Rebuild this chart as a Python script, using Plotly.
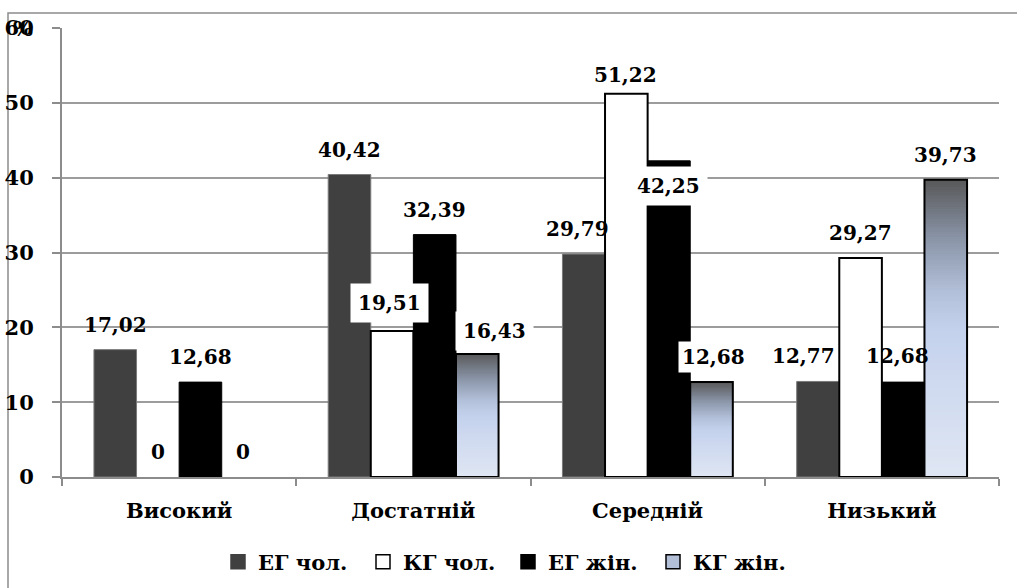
import numpy as np
import plotly.graph_objects as go

# Levels and group values (%)
categories = ["Високий", "Достатній", "Середній", "Низький"]
series_names = ["ЕГ чол.", "КГ чол.", "ЕГ жін.", "КГ жін."]
eg_men = [17.02, 40.42, 29.79, 12.77]
kg_men = [0, 19.51, 51.22, 29.27]
eg_women = [12.68, 32.39, 42.25, 12.68]
kg_women = [0, 16.43, 12.68, 39.73]
y_ticks = [0, 10, 20, 30, 40, 50, 60]

series_values = [eg_men, kg_men, eg_women, kg_women]

FONT = "DejaVu Serif"
GRID = "#9c9c9c"
AXIS = "#8c8c8c"
LABEL_SIZE = 20
AXIS_SIZE = 21

n_series = len(series_values)
bargap = 1.5 / 5.5
bar_w = (1 - bargap) / n_series
xc = np.arange(len(categories))

def bar_center(i, j):
    return xc[j] + (i - (n_series - 1) / 2) * bar_w

fig = go.Figure()

# Vertical gradient fill for the "КГ жін." bars (drawn beneath the outlined bars)
grad_scale = [
    [0.0, "#dfe6f3"],
    [0.35, "#cdd8ef"],
    [0.5, "#c3d1ec"],
    [0.62, "#b3c0d9"],
    [0.8, "#8a95a8"],
    [1.0, "#585858"],
]
n_steps = 120
for j, v in enumerate(kg_women):
    if v <= 0:
        continue
    c = bar_center(3, j)
    edges_y = np.linspace(0, v, n_steps + 1)
    frac = ((edges_y[:-1] + edges_y[1:]) / 2 / v).reshape(-1, 1)
    fig.add_trace(go.Heatmap(
        x=[c - bar_w / 2, c + bar_w / 2], y=edges_y, z=frac,
        colorscale=grad_scale, zmin=0, zmax=1, showscale=False,
        hoverinfo="skip", showlegend=False,
    ))

fills = ["#404040", "#ffffff", "#000000", "rgba(0,0,0,0)"]
edge_colors = ["#7a7a7a", "#000000", "#000000", "#000000"]
edge_widths = [1, 2, 1, 2]
legend_fills = ["#404040", "#ffffff", "#000000", "#b2bfd6"]

for i, (name, vals) in enumerate(zip(series_names, series_values)):
    fig.add_trace(go.Bar(
        x=xc, y=vals, name=name, legendgroup=name, showlegend=False,
        marker=dict(
            color=fills[i],
            # empty (zero-height) bars get no outline
            line=dict(color=edge_colors[i],
                      width=[0 if v == 0 else edge_widths[i] for v in vals]),
        ),
        hoverinfo="name+y",
    ))

# Legend keys
for i, name in enumerate(series_names):
    fig.add_trace(go.Scatter(
        x=[None], y=[None], mode="markers", name=name, legendgroup=name,
        marker=dict(symbol="square", size=14, color=legend_fills[i],
                    line=dict(color=edge_colors[i] if i != 0 else "#404040",
                              width=1.5)),
        hoverinfo="skip",
    ))

# Data labels: (dx, dy) pixel offsets from the top of each bar
label_offsets = {
    (1, 1): (-3, 28),
    (3, 1): (17, 23),
    (0, 2): (-6, 25),
    (1, 2): (-1, 19),
    (2, 2): (0, -25),
    (3, 2): (2, 25),
    (0, 3): (-14, 25),
    (2, 3): (-6, 26),
}
boxed = {(1, 1), (2, 2), (3, 1), (3, 2)}
annotations = []
for i, vals in enumerate(series_values):
    for j, v in enumerate(vals):
        dx, dy = label_offsets.get((i, j), (0, 25))
        txt = "0" if v == 0 else f"{v:.2f}".replace(".", ",")
        annotations.append(dict(
            x=bar_center(i, j), y=v, xref="x", yref="y",
            text=txt, showarrow=False, xshift=dx, yshift=dy,
            xanchor="center", yanchor="middle",
            font=dict(family=FONT, size=LABEL_SIZE, color="#000000", weight="bold"),
            bgcolor="#ffffff" if (i, j) in boxed else "rgba(0,0,0,0)",
            borderpad=7 if (i, j) != (3, 2) else 3,
        ))

# Axis unit marker
annotations.append(dict(
    x=(11 - 62) / 937, y=(477 - 29) / 449, xref="paper", yref="paper",
    text="%", showarrow=False, xanchor="left", yanchor="middle",
    font=dict(family=FONT, size=AXIS_SIZE, color="#000000", weight="bold"),
))

fig.update_layout(
    width=1017, height=588,
    margin=dict(l=62, r=18, t=28, b=111, autoexpand=False),
    paper_bgcolor="#ffffff", plot_bgcolor="#ffffff",
    barmode="group", bargap=bargap, bargroupgap=0,
    font=dict(family=FONT, size=AXIS_SIZE, color="#000000", weight="bold"),
    annotations=annotations,
    showlegend=True,
    legend=dict(
        orientation="h", x=(218 - 62) / 937, xanchor="left",
        y=(477 - 562) / 449, yanchor="middle",
        font=dict(family=FONT, size=AXIS_SIZE, color="#000000", weight="bold"),
        entrywidth=100, entrywidthmode="pixels", itemwidth=30,
        bgcolor="rgba(0,0,0,0)", traceorder="normal",
    ),
    shapes=[dict(
        type="rect", xref="paper", yref="paper",
        x0=(8 - 62) / 937, x1=1.3, y0=-0.6, y1=(477 - 13) / 449,
        line=dict(color=AXIS, width=1.5), fillcolor="rgba(0,0,0,0)",
        layer="below",
    )],
)

fig.update_xaxes(
    range=[-0.5, len(categories) - 0.5],
    tickmode="array", tickvals=xc, ticktext=categories,
    ticks="", showgrid=False, zeroline=False,
    showline=True, linecolor=AXIS, linewidth=2,
    tickfont=dict(family=FONT, size=AXIS_SIZE, color="#000000", weight="bold"),
    ticklabelstandoff=14,
    minor=dict(tick0=-0.5, dtick=1, ticks="outside", ticklen=7,
               tickcolor=AXIS, tickwidth=2, showgrid=False),
)

fig.update_yaxes(
    range=[0, 60], tickmode="array", tickvals=y_ticks,
    ticks="outside", ticklen=8, tickcolor=AXIS, tickwidth=1.5,
    showgrid=True, gridcolor=GRID, gridwidth=1.6, zeroline=False,
    showline=True, linecolor=AXIS, linewidth=2,
    tickfont=dict(family=FONT, size=AXIS_SIZE, color="#000000", weight="bold"),
    ticklabelstandoff=14,
)

fig.write_html("out.html")
